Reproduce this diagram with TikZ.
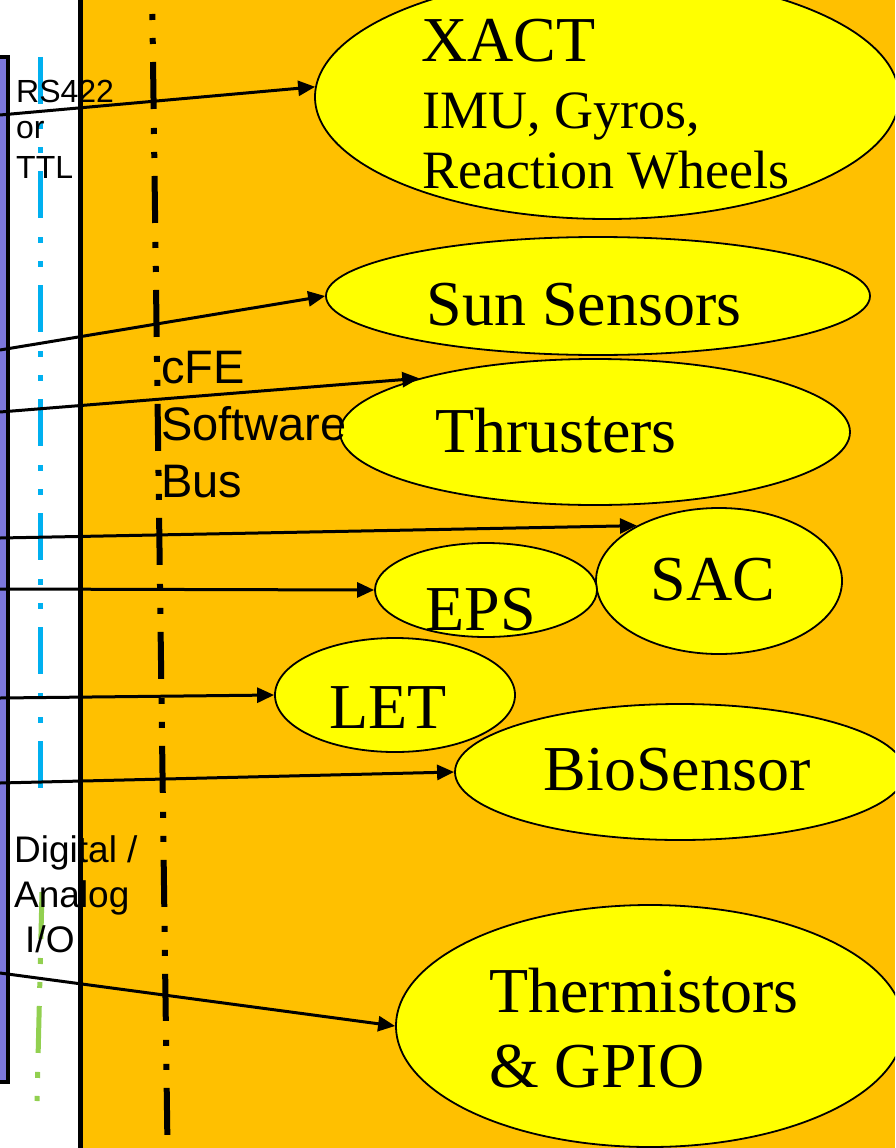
\documentclass[tikz,border=0pt]{standalone}
\usepackage{fontspec}
\setmainfont{Liberation Serif}
\setsansfont{Liberation Sans}
\usepackage{tikz}
\usetikzlibrary{shapes.geometric, arrows.meta}
\definecolor{myorange}{RGB}{255,192,0}
\definecolor{myyellow}{RGB}{255,255,0}
\definecolor{mypurple}{RGB}{124,119,221}
\definecolor{myblue}{RGB}{0,176,240}
\definecolor{mygreen}{RGB}{146,208,80}
\tikzset{
  unit/.style={ellipse, draw=black, fill=myyellow, line width=1.8pt, inner sep=0pt},
  unitname/.style={anchor=base, inner sep=0pt, font=\fontsize{64}{72}\selectfont},
  unitline/.style={anchor=base west, inner sep=0pt, font=\fontsize{54}{60}\selectfont},
  ifname/.style={anchor=base west, inner sep=0pt, font=\sffamily\fontsize{32}{38}\selectfont},
  ioname/.style={anchor=base west, inner sep=0pt, font=\sffamily\fontsize{37}{45}\selectfont},
  busname/.style={anchor=base west, inner sep=0pt, font=\sffamily\fontsize{47}{57}\selectfont},
  arrow/.style={-{Triangle[length=17pt, width=15pt]}, line width=3pt, color=black},
  busline/.style={dash pattern=on 47pt off 19pt on 6pt off 18pt on 6pt off 18pt}
}

\begin{document}
\begin{tikzpicture}[x=1pt, y=-1pt]
  \clip (0,0) rectangle (895,1148);

  % Backgrounds
  \fill[white] (0,0) rectangle (895,1148);
  \fill[myorange] (80,0) rectangle (895,1148);
  \draw[line width=5pt] (80.8,-5) -- (80.8,1153);

  % Processor board
  \draw[line width=4pt, fill=mypurple] (-20,57.5) rectangle (7.5,1082);

  % Interface lines
  \draw[myblue, line width=5pt, busline] (40,57) -- (40,788);
  \draw[mygreen, line width=5pt, busline] (42,892) -- (37,1101);

  % Software bus
  \draw[line width=6pt, busline] (151.5,-52) -- (167.5,1148);

  % Units
  \node[unit, minimum width=584pt, minimum height=244pt] (xact) at (607,97) {};
  \node[unit, minimum width=544pt, minimum height=118pt] (sun) at (598,296) {};
  \node[unit, minimum width=510pt, minimum height=146pt] (thr) at (595,432) {};
  \node[unit, minimum width=246pt, minimum height=146pt] (sac) at (719,581) {};
  \node[unit, minimum width=222pt, minimum height=94pt] (eps) at (486,590) {};
  \node[unit, minimum width=450pt, minimum height=136pt] (bio) at (680,772) {};
  \node[unit, minimum width=240pt, minimum height=114pt] (let) at (395,695) {};
  \node[unit, minimum width=508pt, minimum height=242pt] (therm) at (650,1026) {};

  % Links from the board
  \coordinate (p1) at (0,115);
  \coordinate (p2) at (0,350);
  \coordinate (p3) at (0,412);
  \coordinate (p4) at (0,538);
  \coordinate (p5) at (0,589);
  \coordinate (p6) at (0,698);
  \coordinate (p7) at (0,783);
  \coordinate (p8) at (0,973);
  \draw[arrow] (p1) -- (xact.178);
  \draw[arrow] (p2) -- (sun.west);
  \draw[arrow] (p3) -- (thr.163);
  \draw[arrow] (p4) -- (sac.146);
  \draw[arrow] (p5) -- (eps.west);
  \draw[arrow] (p6) -- (let.west);
  \draw[arrow] (p7) -- (bio.west);
  \draw[arrow] (p8) -- (therm.west);

  % Unit labels
  \node[unitname, anchor=base west] (xactA) at (421,62) {XACT};
  \node[unitline] (xactB) at (422,128) {IMU, Gyros,};
  \node[unitline] (xactC) at (422,188) {Reaction Wheels};
  \node[unitname] (sunT) at (584,325) {Sun Sensors};
  \node[unitname] (thrT) at (556,452) {Thrusters};
  \node[unitname] (sacT) at (713,600) {SAC};
  \node[unitname] (epsT) at (481,630) {EPS};
  \node[unitname] (letT) at (388,728) {LET};
  \node[unitname] (bioT) at (677,790) {BioSensor};
  \node[unitname, anchor=base west] (thermA) at (489,1012) {Thermistors};
  \node[unitname, anchor=base west] (thermB) at (489,1087) {\& GPIO};

  % Interface labels
  \node[ifname] (rsA) at (16,102) {RS422};
  \node[ifname] (rsB) at (16,138) {or};
  \node[ifname] (rsC) at (16,178) {TTL};
  \node[ioname] (ioA) at (14,862) {Digital /};
  \node[ioname] (ioB) at (14,907) {Analog};
  \node[ioname] (ioC) at (25,952) {I/O};
  \node[busname] (busA) at (161,383) {cFE};
  \node[busname] (busB) at (161,440) {Software};
  \node[busname] (busC) at (161,497) {Bus};
\end{tikzpicture}
\end{document}
